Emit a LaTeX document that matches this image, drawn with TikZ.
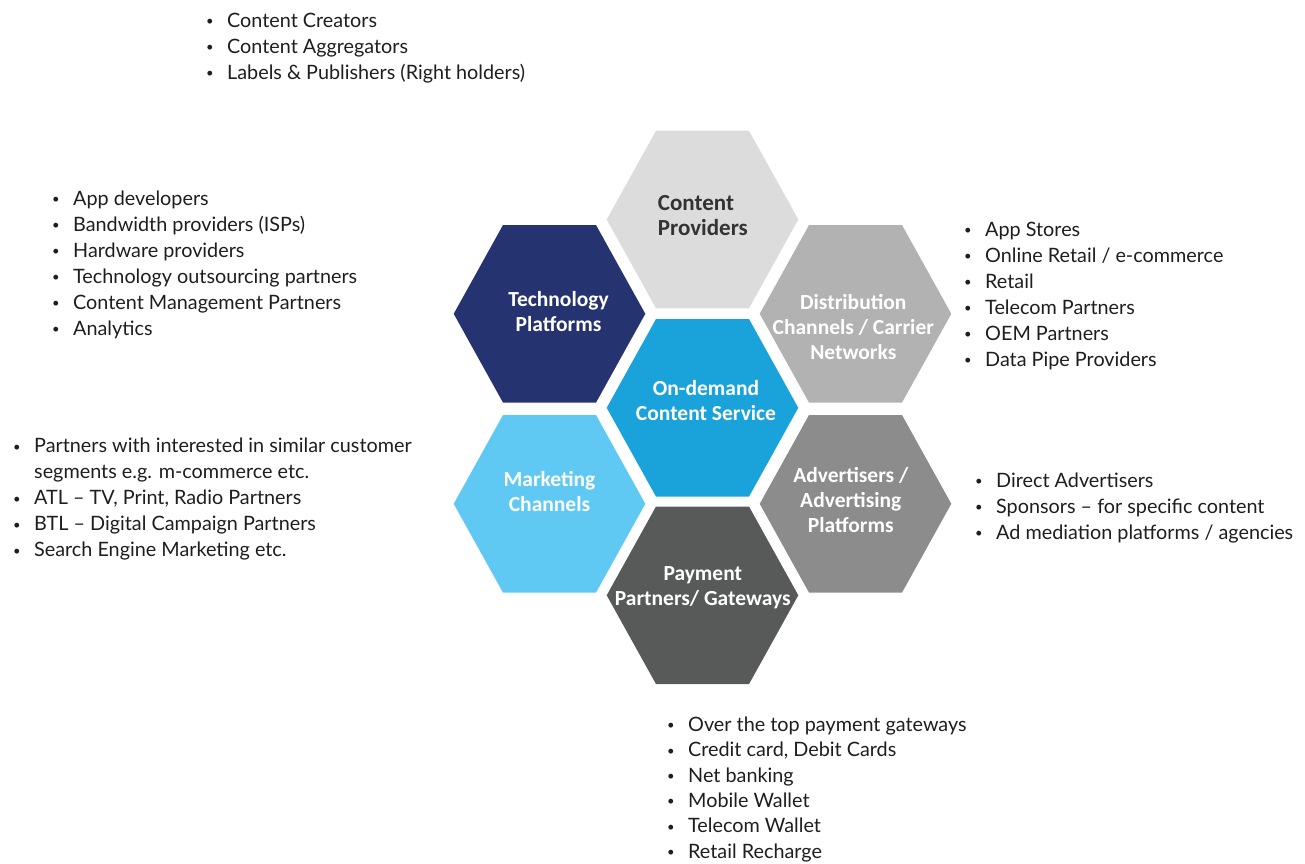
\documentclass[tikz,border=0pt]{standalone}
\usepackage{fontspec}
\setmainfont{Lato}
\newfontfamily\hexfont{Carlito}
\usetikzlibrary{positioning}
\definecolor{providergray}{HTML}{DCDCDC}
\definecolor{technavy}{HTML}{253370}
\definecolor{servicecyan}{HTML}{1AA3DB}
\definecolor{channelgray}{HTML}{B2B2B2}
\definecolor{marketsky}{HTML}{5FC9F3}
\definecolor{advertgray}{HTML}{8C8C8C}
\definecolor{paymentgray}{HTML}{575A59}
\definecolor{labeldark}{HTML}{333333}
\definecolor{pointtext}{HTML}{1E1E1E}

\newenvironment{pointlist}{\begin{tabular}[t]{@{}p{21pt}@{}l@{}}}{\end{tabular}}
\newcommand{\itempoint}{\raisebox{1.6pt}{\fontsize{13}{13}\selectfont\textbullet}&}

\tikzset{
  hexlabel/.style={font=\hexfont\bfseries\fontsize{21.5}{25}\selectfont, text=white,
                   align=center, inner sep=0pt, anchor=base},
  bulletlist/.style={font=\fontsize{19.8}{26}\selectfont, text=pointtext,
                     inner sep=0pt, anchor=base west},
}

\begin{document}
\begin{tikzpicture}[x=1pt, y=-1pt]
  \useasboundingbox (0,0) rectangle (1305,863);

  % the seven cells, hub in the middle
  \coordinate (hub) at (702.5,407.8);
  \foreach \cell/\dx/\dy/\shade in {providers/0/-188.3/providergray,
      technology/-153/-94/technavy, service/0/0/servicecyan,
      distribution/153/-94/channelgray, marketing/-153/96/marketsky,
      advertisers/153/96/advertgray, payment/0/187.5/paymentgray}{
    \coordinate (\cell) at ([shift={(\dx,\dy)}]hub);
    \fill[\shade] ([shift={(-95.8,0)}]\cell) -- ++(49.3,-88.8) -- ++(93,0)
      -- ++(49.3,88.8) -- ++(-49.3,88.8) -- ++(-93,0) -- cycle;
  }

  % cell titles (base sits on the last line)
  \node[hexlabel, font=\hexfont\bfseries\fontsize{23}{25}\selectfont, text=labeldark,
        align=left, anchor=base west] (providerslabel)
    at ([shift={(-44.8,16.2)}]providers) {Content\\Providers};
  \node[hexlabel] (technologylabel) at ([shift={(9,17.9)}]technology) {Technology\\Platforms};
  \node[hexlabel] (servicelabel) at ([shift={(3.5,12.9)}]service) {On-demand\\Content Service};
  \node[hexlabel] (distributionlabel) at ([shift={(-2.2,46)}]distribution)
    {Distribution\\Channels / Carrier\\Networks};
  \node[hexlabel] (marketinglabel) at ([shift={(0,7.9)}]marketing) {Marketing\\Channels};
  \node[hexlabel] (advertiserslabel) at ([shift={(-4.7,28.9)}]advertisers)
    {Advertisers /\\Advertising\\Platforms};
  \node[hexlabel] (paymentlabel) at ([shift={(0.3,9.7)}]payment) {Payment\\Partners/ Gateways};

  % partner lists
  \node[bulletlist] (providerlist) at (206,27) {\begin{pointlist}
    \itempoint Content Creators\\
    \itempoint Content Aggregators\\
    \itempoint Labels \& Publishers (Right holders)
  \end{pointlist}};
  \node[bulletlist] (technologylist) at (52,205) {\begin{pointlist}
    \itempoint App developers\\
    \itempoint Bandwidth providers (ISPs)\\
    \itempoint Hardware providers\\
    \itempoint Technology outsourcing partners\\
    \itempoint Content Management Partners\\
    \itempoint Analytics
  \end{pointlist}};
  \node[bulletlist] (marketinglist) at (13,452.7) {\begin{pointlist}
    \itempoint Partners with interested in similar customer\\
    & segments e.g. m-commerce etc.\\
    \itempoint ATL -- TV, Print, Radio Partners\\
    \itempoint BTL -- Digital Campaign Partners\\
    \itempoint Search Engine Marketing etc.
  \end{pointlist}};
  \node[bulletlist] (distributionlist) at (964,236) {\begin{pointlist}
    \itempoint App Stores\\
    \itempoint Online Retail / e-commerce\\
    \itempoint Retail\\
    \itempoint Telecom Partners\\
    \itempoint OEM Partners\\
    \itempoint Data Pipe Providers
  \end{pointlist}};
  \node[bulletlist] (advertiserslist) at (975,487.5) {\begin{pointlist}
    \itempoint Direct Advertisers\\
    \itempoint Sponsors -- for specific content\\
    \itempoint Ad mediation platforms / agencies
  \end{pointlist}};
  \node[bulletlist, font=\fontsize{19.8}{25.3}\selectfont] (paymentlist) at (667,731.5) {\begin{pointlist}
    \itempoint Over the top payment gateways\\
    \itempoint Credit card, Debit Cards\\
    \itempoint Net banking\\
    \itempoint Mobile Wallet\\
    \itempoint Telecom Wallet\\
    \itempoint Retail Recharge
  \end{pointlist}};
\end{tikzpicture}
\end{document}
